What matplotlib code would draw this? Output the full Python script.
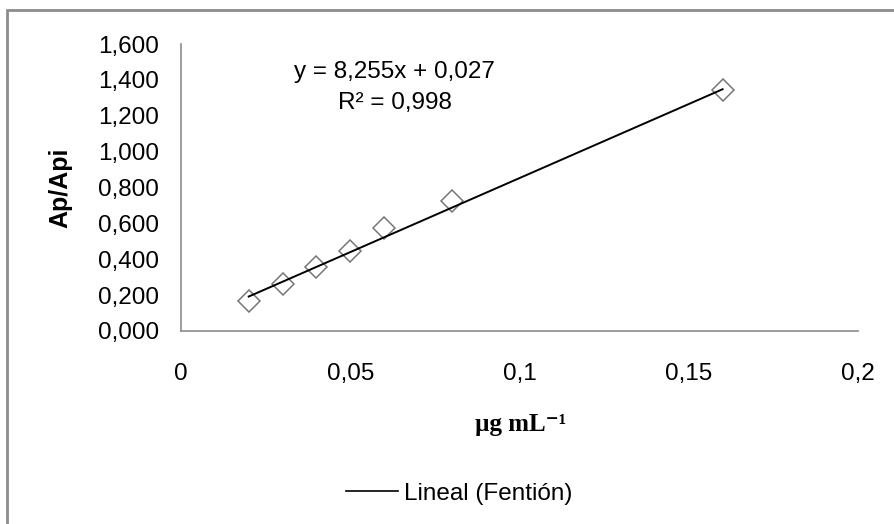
import numpy as np
import matplotlib
matplotlib.use("Agg")
import matplotlib.pyplot as plt
from matplotlib.patches import Rectangle
from matplotlib.lines import Line2D
from matplotlib.ticker import FuncFormatter

# calibration data (Fention)
conc = [0.02, 0.03, 0.04, 0.05, 0.06, 0.08, 0.16]
ratio = [0.170, 0.262, 0.355, 0.448, 0.572, 0.725, 1.345]
slope = 8.255
intercept = 0.027
x_ticks = [0, 0.05, 0.1, 0.15, 0.2]
x_tick_labels = ["0", "0,05", "0,1", "0,15", "0,2"]
y_ticks = [0, 0.2, 0.4, 0.6, 0.8, 1.0, 1.2, 1.4, 1.6]

plt.rcParams['font.family'] = ['Liberation Sans', 'DejaVu Sans']
fs = 17.5

fig = plt.figure(figsize=(8.94, 5.24), dpi=100)
ax = fig.add_axes([181 / 894, 1 - 331 / 524, (858 - 181) / 894, (331 - 44) / 524])

# outer chart frame
fig.patches.append(Rectangle((6.5 / 894, -0.1), 1.2, 1 - 9.5 / 524 + 0.1,
                             transform=fig.transFigure, fill=False,
                             edgecolor='#8c8c8c', linewidth=2))

ax.plot(conc, ratio, linestyle='none', marker='D', markersize=11,
        markerfacecolor='white', markeredgecolor='#777777', markeredgewidth=1.1, zorder=2)
xfit = np.array([conc[0], conc[-1]])
ax.plot(xfit, slope * xfit + intercept, color='black', linewidth=1.4, zorder=3)

ax.set_xlim(0, 0.2)
ax.set_ylim(0, 1.6)
ax.set_xticks(x_ticks)
ax.set_xticklabels(x_tick_labels)
ax.set_yticks(y_ticks)
ax.yaxis.set_major_formatter(FuncFormatter(lambda v, p: f"{v:.3f}".replace('.', ',')))
ax.tick_params(axis='both', length=0, labelsize=fs, colors='black')
ax.tick_params(axis='y', pad=16)
ax.tick_params(axis='x', pad=23)

for s in ['top', 'right']:
    ax.spines[s].set_visible(False)
for s in ['left', 'bottom']:
    ax.spines[s].set_color('#8c8c8c')
    ax.spines[s].set_linewidth(1.2)

fig.text(60 / 894, 1 - 188 / 524, "Ap/Api", fontsize=18, fontweight='bold',
         rotation=90, ha='center', va='center')
fig.text(521 / 894, 1 - 424 / 524, "µg mL⁻¹", fontsize=18, fontweight='bold',
         family=['Liberation Serif', 'DejaVu Serif'], ha='center', va='center')

ax.text(0.0632, 1.357, "y = 8,255x + 0,027\nR² = 0,998", fontsize=fs,
        ha='center', va='center', linespacing=1.5)

handle = Line2D([], [], color='black', linewidth=1.2)
fig.legend([handle], ["Lineal (Fentión)"], loc='center', bbox_to_anchor=(459 / 894, 1 - 494 / 524),
           frameon=False, fontsize=fs, handlelength=2.15, handletextpad=0.25)

fig.savefig("out.png", dpi=100)
